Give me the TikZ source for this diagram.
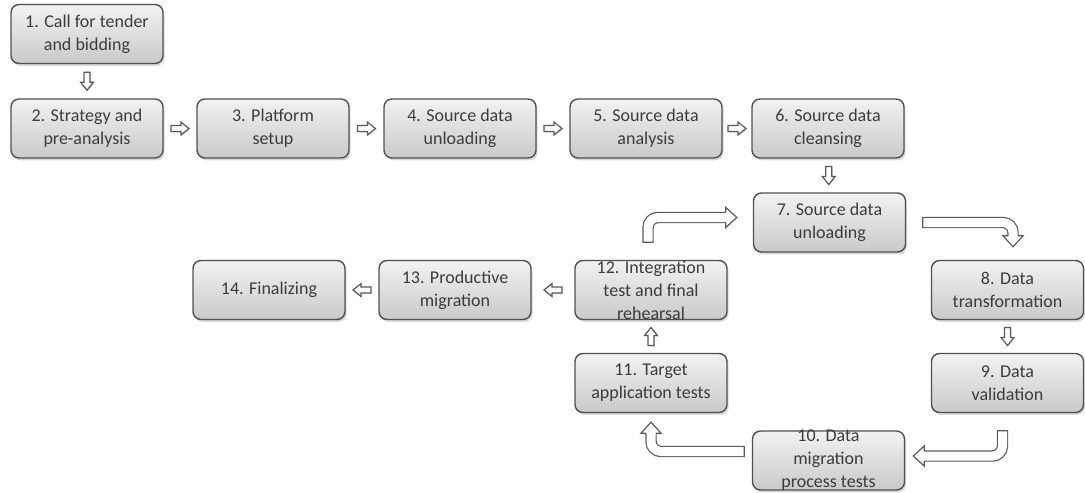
\documentclass[tikz,border=0pt]{standalone}
\usepackage{fontspec}
\setmainfont{Carlito}
\usetikzlibrary{calc, shadows}
\definecolor{boxline}{HTML}{505050}
\definecolor{boxtext}{HTML}{3C3C3C}
\definecolor{arrline}{HTML}{5A5A5A}
\tikzset{
  stepbox/.style={draw=boxline, line width=0.7pt, rounded corners=4pt,
    top color=gray!10, bottom color=gray!42,
    minimum width=76pt, minimum height=29.5pt, inner sep=1pt,
    align=center, text=boxtext, font=\fontsize{9}{11.5}\selectfont,
    drop shadow={shadow xshift=0.8pt, shadow yshift=-1.2pt, opacity=0.3}},
  smallarr/.pic={\filldraw[fill=white, draw=arrline, line width=0.6pt,
      drop shadow={shadow xshift=0.5pt, shadow yshift=-0.6pt, opacity=0.25}]
    (-4.5pt,-1.5pt) -- (0.5pt,-1.5pt) -- (0.5pt,-3.2pt) -- (4.5pt,0)
    -- (0.5pt,3.2pt) -- (0.5pt,1.5pt) -- (-4.5pt,1.5pt) -- cycle;},
  bentarr/.style={draw=arrline, line width=5.7pt, rounded corners=5pt,
    postaction={draw=white, line width=4.5pt, shorten <=0.6pt}},
  arrhead/.pic={\filldraw[fill=white, draw=arrline, line width=0.6pt]
    (-5.5pt,2.55pt) -- (-5.5pt,5pt) -- (0,0) -- (-5.5pt,-5pt) -- (-5.5pt,-2.55pt);}
}

\begin{document}
\begin{tikzpicture}[x=0.5pt, y=-0.5pt]
  \useasboundingbox (0,0) rectangle (1085,492);

  \node[stepbox] (b1) at (87,34) {1. Call for tender\\and bidding};
  \node[stepbox] (b2) at (87,128.5) {2. Strategy and\\pre-analysis};
  \node[stepbox] (b3) at (273,128.5) {3. Platform\\setup};
  \node[stepbox] (b4) at (460,128.5) {4. Source data\\unloading};
  \node[stepbox] (b5) at (646,128.5) {5. Source data\\analysis};
  \node[stepbox] (b6) at (828,128.5) {6. Source data\\cleansing};
  \node[stepbox] (b7) at (829.5,222.5) {7. Source data\\unloading};
  \node[stepbox] (b8) at (1007.5,290) {8. Data\\transformation};
  \node[stepbox] (b9) at (1007.5,383) {9. Data\\validation};
  \node[stepbox, inner ysep=-2pt] (b10) at (828.5,460.5) {10. Data\\migration\\process tests};
  \node[stepbox] (b11) at (651,383) {11. Target\\application tests};
  \node[stepbox, inner ysep=-2pt] (b12) at (651,290) {12. Integration\\test and final\\rehearsal};
  \node[stepbox] (b13) at (455,290) {13. Productive\\migration};
  \node[stepbox] (b14) at (269,290) {14. Finalizing};

  \pic[rotate=-90] at ($(b1.south)!0.5!(b2.north)$) {smallarr};
  \pic at ($(b2.east)!0.5!(b3.west)$) {smallarr};
  \pic at ($(b3.east)!0.5!(b4.west)$) {smallarr};
  \pic at ($(b4.east)!0.5!(b5.west)$) {smallarr};
  \pic at ($(b5.east)!0.5!(b6.west)$) {smallarr};
  \pic[rotate=-90] at ($(b6.south)!0.5!(b7.north)$) {smallarr};
  \pic[rotate=-90] at ($(b8.south)!0.5!(b9.north)$) {smallarr};
  \pic[rotate=90] at ($(b11.north)!0.5!(b12.south)$) {smallarr};
  \pic[rotate=180] at ($(b12.west)!0.5!(b13.east)$) {smallarr};
  \pic[rotate=180] at ($(b13.west)!0.5!(b14.east)$) {smallarr};

  \coordinate (a1tail) at ([xshift=-1.5pt, yshift=8.5pt]b12.north);
  \coordinate (a1base) at ([xshift=-13.5pt, yshift=2.5pt]b7.west);
  \coordinate (a1tip) at ([xshift=-8pt, yshift=2.5pt]b7.west);
  \draw[bentarr] (a1tail) |- (a1base);
  \pic at (a1tip) {arrhead};

  \coordinate (a2tail) at ([xshift=8pt]b7.east);
  \coordinate (a2base) at ([xshift=2.75pt, yshift=12pt]b8.north);
  \coordinate (a2tip) at ([xshift=2.75pt, yshift=6.5pt]b8.north);
  \draw[bentarr] (a2tail) -| (a2base);
  \pic[rotate=-90] at (a2tip) {arrhead};

  \coordinate (a3tail) at ([xshift=-2.5pt, yshift=-8.5pt]b9.south);
  \coordinate (a3base) at ([xshift=9.5pt, yshift=2.25pt]b10.east);
  \coordinate (a3tip) at ([xshift=4pt, yshift=2.25pt]b10.east);
  \draw[bentarr] (a3tail) |- (a3base);
  \pic[rotate=180] at (a3tip) {arrhead};

  \coordinate (a4tail) at ([xshift=-3.5pt, yshift=4.5pt]b10.west);
  \coordinate (a4base) at ([yshift=-10pt]b11.south);
  \coordinate (a4tip) at ([yshift=-4.5pt]b11.south);
  \draw[bentarr] (a4tail) -| (a4base);
  \pic[rotate=90] at (a4tip) {arrhead};
\end{tikzpicture}
\end{document}
